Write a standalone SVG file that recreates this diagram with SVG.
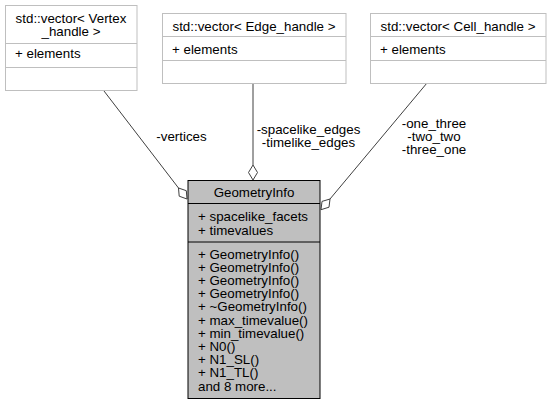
<svg xmlns="http://www.w3.org/2000/svg" width="552" height="405" viewBox="0 0 552 405">
<style>
text{font-family:"Liberation Sans",Arial,Helvetica,sans-serif;font-size:13.33px;fill:#000}
.mid{text-anchor:middle}
.box{fill:#fff;stroke:#bfbfbf;stroke-width:1}
.main{fill:#bfbfbf;stroke:#000;stroke-width:1}
.sepl{stroke:#bfbfbf;stroke-width:1}
.sepm{stroke:#000;stroke-width:1}
.edge{stroke:#404040;stroke-width:1;fill:none}
.dia{stroke:#404040;stroke-width:1;fill:#fff}
</style>
<rect width="552" height="405" fill="#fff"/>
<g id="connectors">
<line class="edge" x1="104" y1="91" x2="178.5" y2="188"/>
<polygon class="dia" points="187,199 186.3,190.7 178.5,188 179.2,196.2"/>
<text class="mid" x="181.5" y="140.5">-vertices</text>
<line class="edge" x1="253" y1="83" x2="253" y2="165"/>
<polygon class="dia" points="253,180 257.5,172.5 253,165 248.5,172.5"/>
<text class="mid" x="308.5" y="133.5">-spacelike_edges</text>
<text class="mid" x="308.5" y="146.5">-timelike_edges</text>
<line class="edge" x1="427" y1="83" x2="330" y2="199"/>
<polygon class="dia" points="321,209.7 329,207.2 330,199 322,201.4"/>
<text class="mid" x="434" y="127.5">-one_three</text>
<text class="mid" x="434" y="140.5">-two_two</text>
<text class="mid" x="434" y="153.5">-three_one</text>
</g>
<g id="node-vertex">
<rect class="box" x="5.5" y="5.5" width="131.5" height="85"/>
<line class="sepl" x1="5.5" y1="43.5" x2="137" y2="43.5"/>
<line class="sepl" x1="5.5" y1="67.5" x2="137" y2="67.5"/>
<text class="mid" x="71" y="22.5">std::vector&lt; Vertex</text>
<text class="mid" x="71" y="35.5">_handle &gt;</text>
<text x="15" y="57.5">+ elements</text>
</g>
<g id="node-edge">
<rect class="box" x="162.5" y="13.5" width="183.5" height="70"/>
<line class="sepl" x1="162.5" y1="36.5" x2="346" y2="36.5"/>
<line class="sepl" x1="162.5" y1="60.5" x2="346" y2="60.5"/>
<text class="mid" x="254" y="30.5">std::vector&lt; Edge_handle &gt;</text>
<text x="172" y="53.5">+ elements</text>
</g>
<g id="node-cell">
<rect class="box" x="370.5" y="13.5" width="175.5" height="70"/>
<line class="sepl" x1="370.5" y1="36.5" x2="546" y2="36.5"/>
<line class="sepl" x1="370.5" y1="60.5" x2="546" y2="60.5"/>
<text class="mid" x="458" y="30.5">std::vector&lt; Cell_handle &gt;</text>
<text x="380" y="53.5">+ elements</text>
</g>
<g id="node-geometryinfo">
<rect class="main" x="188" y="180.5" width="132" height="218"/>
<line class="sepm" x1="188" y1="203.5" x2="320" y2="203.5"/>
<line class="sepm" x1="188" y1="242" x2="320" y2="242"/>
<text class="mid" x="254" y="197">GeometryInfo</text>
<text x="198" y="221">+ spacelike_facets</text>
<text x="198" y="234.5">+ timevalues</text>
<text x="198" y="258.5">+ GeometryInfo()</text>
<text x="198" y="271.7">+ GeometryInfo()</text>
<text x="198" y="284.9">+ GeometryInfo()</text>
<text x="198" y="298.1">+ GeometryInfo()</text>
<text x="198" y="311.3">+ ~GeometryInfo()</text>
<text x="198" y="324.5">+ max_timevalue()</text>
<text x="198" y="337.7">+ min_timevalue()</text>
<text x="198" y="350.9">+ N0()</text>
<text x="198" y="364.1">+ N1_SL()</text>
<text x="198" y="377.3">+ N1_TL()</text>
<text x="198" y="390.5">and 8 more...</text>
</g>
</svg>
